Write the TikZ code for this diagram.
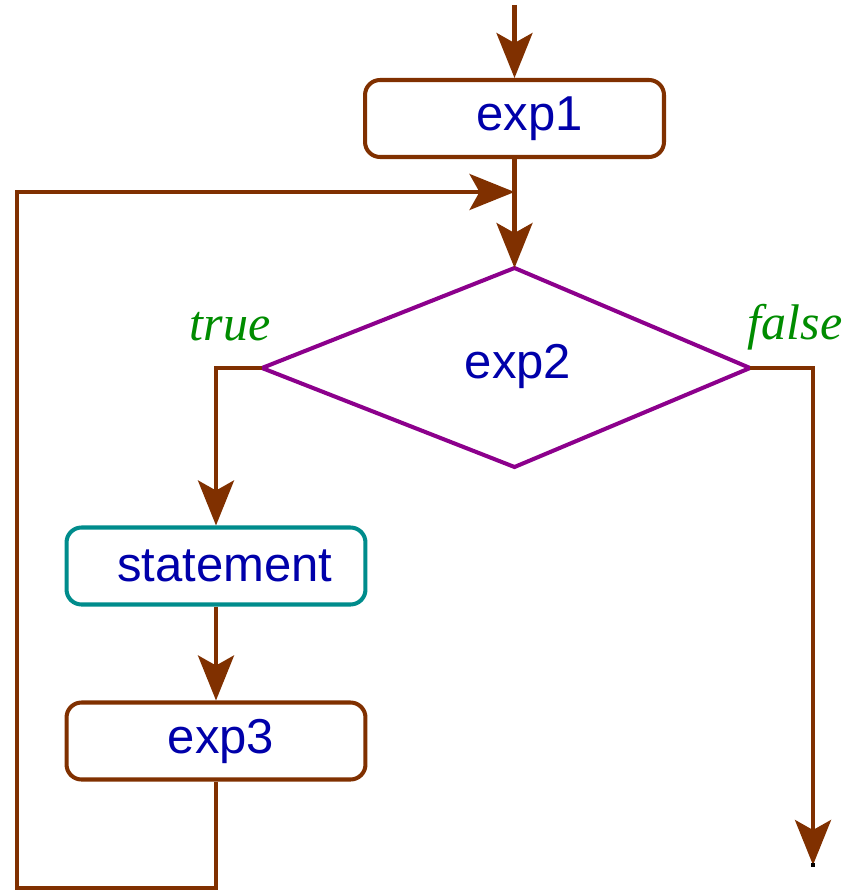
\documentclass[tikz,border=0pt]{standalone}
\usepackage{fontspec}
\setmainfont{Liberation Sans}
\newfontfamily\labelfont{Liberation Serif}
\usetikzlibrary{arrows.meta}

\definecolor{flowbrown}{RGB}{128,48,0}
\definecolor{flowblue}{RGB}{0,0,170}
\definecolor{flowpurple}{RGB}{140,0,140}
\definecolor{flowteal}{RGB}{0,140,140}
\definecolor{flowgreen}{RGB}{0,140,0}

\begin{document}
\begin{tikzpicture}[x=0.02cm,y=-0.02cm]
\tikzstyle{every node}=[font=\fontsize{27.9}{30}\selectfont,text=flowblue];
\tikzstyle{box}=[draw=flowbrown,line width=2.3pt,rounded corners=0.3cm,
  minimum width=5.98cm,minimum height=1.54cm,inner sep=0pt];
\tikzstyle{cond}=[draw=flowpurple,line width=2.3pt];
\tikzstyle{arr}=[draw=flowbrown,line width=2.3pt,
  -{Stealth[length=0.9cm,width=0.72cm,inset=0.2cm,fill=flowbrown]}];
\tikzstyle{branch}=[text=flowgreen,font=\labelfont\itshape\fontsize{28.5}{30}\selectfont];

\useasboundingbox (0,0) rectangle (849,891);

% corners of the test
\coordinate (c2n) at (514.5,268);
\coordinate (c2e) at (750,368);
\coordinate (c2s) at (514.5,467);
\coordinate (c2w) at (262,368);
\draw[cond] (c2n) -- (c2e) -- (c2s) -- (c2w) -- cycle;

% boxes of the loop
\node[box] (exp1) at (514.5,118.5) {\hspace*{0.6cm}exp1};
\node (exp2) at (518,366) {exp2};
\node[box,draw=flowteal] (stmt) at (216,566) {\hspace*{0.35cm}statement};
\node[box] (exp3) at (216,741) {\hspace*{0.2cm}exp3};

\node[branch] (t) at (230,327) {true};
\node[branch] (f) at (795,327) {false};

\coordinate (start) at (514.5,5);
\coordinate (join) at (514.5,192);
\coordinate (bl) at (17,888);
\coordinate (tl) at (17,192);
\coordinate (out) at (813,865);

% connectors
\draw[arr] (start) -- (exp1.north);
\draw[arr] (exp1.south) -- (c2n);
\draw[arr] (c2w) -| (stmt.north);
\draw[arr] (stmt.south) -- (exp3.north);
\draw[arr] (exp3.south) |- (bl) -- (tl) -- (join);
\draw[arr] (c2e) -| (out);
\fill[black] (811,863) rectangle (815,867);
\end{tikzpicture}
\end{document}
